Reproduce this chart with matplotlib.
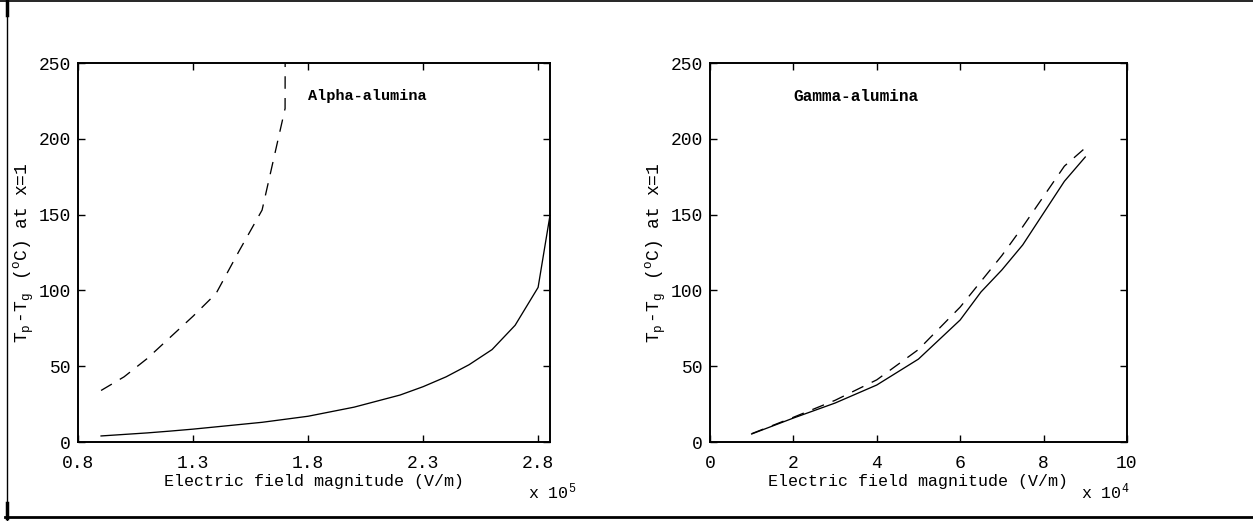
import matplotlib
matplotlib.use("Agg")
import matplotlib.pyplot as plt
from matplotlib.lines import Line2D

# ===== data (x in units of 1e5 V/m for alpha, 1e4 V/m for gamma) =====
alpha_x_solid = [0.9, 1.0, 1.1, 1.2, 1.3, 1.4, 1.5, 1.6, 1.7, 1.8, 1.9, 2.0,
                 2.1, 2.2, 2.3, 2.4, 2.5, 2.6, 2.7, 2.8, 2.85]
alpha_y_solid = [4, 5, 6, 7.2, 8.5, 10, 11.5, 13, 15, 17, 20, 23,
                 27, 31, 36.5, 43, 51, 61, 77, 102, 148]
alpha_x_dash = [0.9, 1.0, 1.1, 1.2, 1.3, 1.4, 1.5, 1.6, 1.7, 1.701]
alpha_y_dash = [34, 43, 55, 69, 83, 98, 126, 153, 220, 320]

gamma_x = [1, 2, 3, 4, 5, 6, 6.5, 7, 7.5, 8.5, 9]
gamma_y_solid = [5.3, 15.8, 25.7, 37.6, 54.7, 80.5, 99, 113.5, 130, 172, 188]
gamma_y_dash = [5.5, 16.3, 27.5, 41, 61, 89, 106, 123, 142, 182, 194]

alpha_ticks = [0.8, 1.3, 1.8, 2.3, 2.8]
gamma_ticks = [0, 2, 4, 6, 8, 10]
y_ticks = [0, 50, 100, 150, 200, 250]

MONO = "Liberation Mono"
plt.rcParams["font.family"] = MONO
plt.rcParams["mathtext.fontset"] = "custom"
plt.rcParams["mathtext.rm"] = MONO
plt.rcParams["mathtext.it"] = MONO
plt.rcParams["mathtext.bf"] = MONO + ":bold"

YLABEL = r"T$_\mathrm{p}\,$-T$_\mathrm{g}\,$ ($^\mathrm{o}$C) at x=1"
XLABEL = "Electric field magnitude (V/m)"
DASH = (9.5, 7)

fig = plt.figure(figsize=(12.53, 5.21), dpi=100)
ax1 = fig.add_axes([0.0623, 0.1516, 0.3767, 0.7274])
ax2 = fig.add_axes([0.5666, 0.1516, 0.3328, 0.7274])

ax1.plot(alpha_x_solid, alpha_y_solid, color="black", lw=0.95)
ax1.plot(alpha_x_dash, alpha_y_dash, color="black", lw=0.95,
         linestyle=(0, DASH))
ax1.set_xlim(0.8, 2.852)
ax1.set_xticks(alpha_ticks)
ax1.set_xticklabels([f"{t:.1f}" for t in alpha_ticks])
ax1.text(1.8, 228, "Alpha-alumina", fontsize=11, fontweight="bold",
         va="center", ha="left")
ax1.text(0.953, -0.132, r"x 10$^\mathrm{5}$", transform=ax1.transAxes,
         fontsize=12, va="center", ha="left")

ax2.plot(gamma_x, gamma_y_solid, color="black", lw=0.95)
ax2.plot(gamma_x, gamma_y_dash, color="black", lw=0.95, linestyle=(0, DASH))
ax2.set_xlim(0, 10)
ax2.set_xticks(gamma_ticks)
ax2.text(2.0, 228, "Gamma-alumina", fontsize=11.5, fontweight="bold",
         va="center", ha="left")
ax2.text(0.891, -0.132, r"x 10$^\mathrm{4}$", transform=ax2.transAxes,
         fontsize=12, va="center", ha="left")

for ax in (ax1, ax2):
    ax.set_ylim(0, 250)
    ax.set_yticks(y_ticks)
    ax.tick_params(direction="in", length=5, width=1, top=True, right=True,
                   labelsize=13)
    ax.tick_params(axis="x", pad=9)
    ax.tick_params(axis="y", pad=5)
    for s in ax.spines.values():
        s.set_linewidth(1.4)
    ax.set_xlabel(XLABEL, fontsize=12, labelpad=2)
    ax.set_ylabel(YLABEL, fontsize=13, labelpad=2)

# outer frame pieces
W, H = 1253.0, 521.0
fig.add_artist(Line2D([0, 1], [1 - 0.5 / H, 1 - 0.5 / H], color="black", lw=1.2))
fig.add_artist(Line2D([6.5 / W, 6.5 / W], [0, 1], color="black", lw=1.0))
fig.add_artist(Line2D([6.5 / W, 6.5 / W], [1 - 15 / H, 1], color="black", lw=2.5))
fig.add_artist(Line2D([6.5 / W, 6.5 / W], [1 - 518 / H, 1 - 503 / H], color="black", lw=2.5))
fig.add_artist(Line2D([5 / W, 1], [1 - 517 / H, 1 - 517 / H], color="black", lw=2.0))

plt.savefig("out.png", dpi=100)
plt.close()
